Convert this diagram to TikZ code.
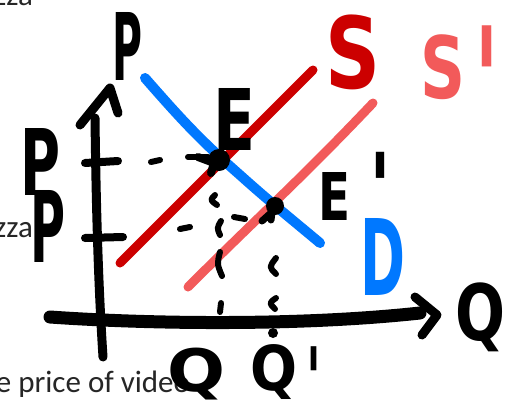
\documentclass[tikz,border=0pt]{standalone}
\usepackage{fontspec}
\usepackage{graphicx}
\setmainfont{Carlito}
\newfontfamily\hf{DejaVu Sans}
\definecolor{sred}{RGB}{204,0,0}
\definecolor{spink}{RGB}{242,90,90}
\definecolor{dblue}{RGB}{0,120,255}
\newcommand\lt[3]{\resizebox*{#1pt}{#2pt}{\hf\bfseries #3}}
\newcommand\prm[2]{\resizebox*{#1pt}{#2pt}{\hf\bfseries\itshape\raisebox{-0.46em}[0.27em][0pt]{'}}}
\tikzset{
  ink/.style={line width=#1, line cap=round, line join=round},
  lbl/.style={inner sep=0pt, outer sep=0pt, anchor=south west},
  doc/.style={inner sep=0pt, outer sep=0pt, font=\fontsize{31}{31}\selectfont, text=black!85},
}
\begin{document}
\begin{tikzpicture}[x=1pt,y=-1pt]
\useasboundingbox (0,0) rectangle (506,408);
\fill[white] (0,0) rectangle (506,408);
% background document text (cut off)
\node[doc, anchor=base east] (t1) at (33,5) {zza};
\node[doc, anchor=base east] (t2) at (33,237) {zza};
\node[doc, anchor=base east] (t3) at (190,392) {e price of video};
% curves
\draw[ink=9pt, sred] (120,263) -- (313,70);
\draw[ink=9pt, spink] (188,287) .. controls (260,215) and (300,180) .. (373,103);
\draw[ink=10pt, dblue] (145,78) .. controls (180,118) and (200,140) .. (240,175) .. controls (270,202) and (295,222) .. (320,243);
% axes
\draw[ink=9pt] (95,118) .. controls (96,200) and (98,280) .. (103,357);
\draw[ink=9pt] (80,125) -- (110,88) -- (118,113);
\draw[ink=8pt] (85,163) -- (118,161);
\draw[ink=8pt] (85,238) -- (123,237);
\draw[ink=13pt] (50,317) .. controls (150,324) and (300,326) .. (420,313);
\draw[ink=9pt] (415,297) -- (437,315) -- (422,335);
% dashes
\draw[ink=6pt] (151,162) -- (160,160);
\draw[ink=6pt] (188,157) -- (208,157);
\draw[ink=6pt] (180,229) -- (190,227);
\draw[ink=6pt] (234,217) -- (245,219);
\draw[ink=6pt] (215,195) .. controls (210,200) .. (217,205);
\draw[ink=6pt] (221,221) .. controls (217,228) .. (220,235);
\draw[ink=6pt] (220,252) .. controls (217,264) .. (222,276);
\draw[ink=6pt] (221,303) -- (220,312);
\draw[ink=6pt] (276,258) .. controls (269,267) .. (276,274);
\draw[ink=6pt] (276,298) .. controls (269,303) .. (275,309);
\fill (273,333) circle (5pt);
% equilibrium points
\fill (219,160) circle (11pt);
\draw[ink=8pt] (198,157) -- (214,163) -- (211,173);
\fill (275,206) circle (9pt);
\draw[ink=7pt] (262,221) -- (272,212) -- (271,220);
% labels
\node[lbl] (lP) at (112,80) {\lt{30}{68}{P}};
\node[lbl] (lP1) at (20,195) {\lt{40}{67}{P}};
\node[lbl] (lP2) at (30,262) {\lt{35}{72}{P}};
\node[lbl] (lE) at (213,150) {\lt{42}{62}{E}};
\node[lbl] (lE2) at (318,220) {\lt{32}{48}{E}\kern19pt\raisebox{42pt}{\prm{22}{26}}};
\node[lbl, text=sred] (lS) at (325,90) {\lt{55}{75}{S}};
\node[lbl, text=spink] (lS2) at (420,100) {\lt{45}{65}{S}\kern9pt\raisebox{32pt}{\prm{25}{41}}};
\node[lbl, text=dblue] (lD) at (360,295) {\lt{45}{77}{D}};
\node[lbl] (lQ) at (455,352) {\lt{50}{69}{Q}};
\node[lbl] (lQ1) at (167,400) {\lt{58}{52}{Q}};
\node[lbl] (lQ2) at (250,400) {\lt{47}{55}{Q}\kern9pt\raisebox{20pt}{\prm{15}{24}}};
\end{tikzpicture}
\end{document}
